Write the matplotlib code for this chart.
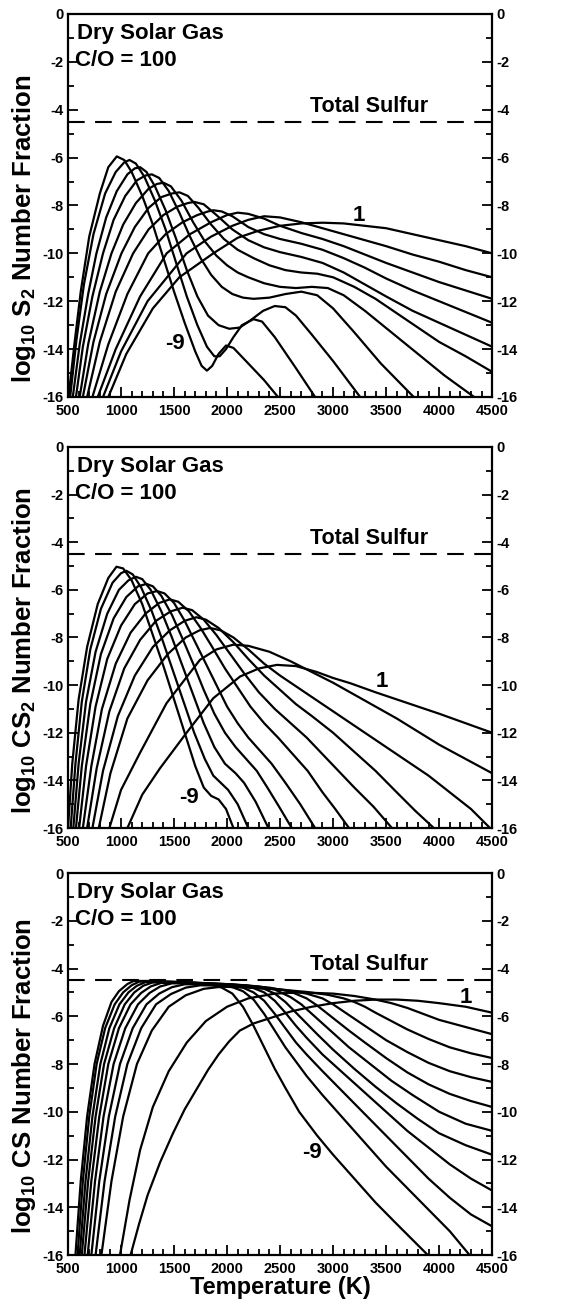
import matplotlib
matplotlib.use("Agg")
import matplotlib.pyplot as plt
from matplotlib.ticker import MultipleLocator

plt.rcParams['font.family'] = ['Liberation Sans', 'DejaVu Sans']
plt.rcParams['font.weight'] = 'bold'
plt.rcParams['axes.unicode_minus'] = False
plt.rcParams['mathtext.fontset'] = 'custom'
plt.rcParams['mathtext.rm'] = 'Liberation Sans:bold'
plt.rcParams['mathtext.it'] = 'Liberation Sans:bold'
plt.rcParams['mathtext.bf'] = 'Liberation Sans:bold'

# log10 P (bar) for each curve, lowest pressure first
log_p = [-9, -8, -7, -6, -5, -4, -3, -2, -1, 0, 1]
total_sulfur = -4.5

# ---- S2 ----
s2_T = [
    [505, 560, 620, 700, 800, 880, 960, 1030, 1100, 1200, 1300, 1400, 1500, 1600, 1700, 1760, 1810, 1860, 1920, 1990, 2060, 2200, 2350, 2480],
    [520, 580, 650, 740, 850, 950, 1030, 1080, 1140, 1220, 1320, 1420, 1520, 1620, 1720, 1810, 1880, 1930, 1990, 2060, 2140, 2250, 2330, 2450, 2650, 2830],
    [545, 610, 690, 768, 860, 960, 1060, 1130, 1180, 1240, 1320, 1420, 1520, 1620, 1720, 1820, 1920, 2020, 2120, 2220, 2340, 2450, 2550, 2650, 2800, 3000, 3255],
    [575, 640, 730, 830, 930, 1040, 1150, 1230, 1290, 1360, 1450, 1550, 1650, 1750, 1850, 1950, 2050, 2150, 2250, 2400, 2550, 2700, 2850, 3000, 3200, 3450, 3760],
    [610, 690, 800, 910, 1020, 1140, 1260, 1340, 1400, 1470, 1570, 1680, 1790, 1900, 2000, 2100, 2200, 2350, 2500, 2650, 2800, 2950, 3100, 3300, 3550, 3800, 4050, 4330],
    [640, 740, 860, 1004, 1130, 1260, 1380, 1480, 1550, 1630, 1730, 1850, 1970, 2100, 2250, 2400, 2550, 2700, 2850, 3000, 3200, 3400, 3600, 3800, 4000, 4250, 4500],
    [680, 800, 950, 1114, 1260, 1400, 1530, 1630, 1690, 1780, 1900, 2050, 2200, 2350, 2500, 2700, 2900, 3100, 3300, 3500, 3750, 4000, 4250, 4500],
    [730, 880, 1060, 1256, 1420, 1580, 1720, 1820, 1870, 1950, 2050, 2200, 2350, 2500, 2700, 2900, 3100, 3300, 3500, 3750, 4000, 4250, 4500],
    [780, 950, 1180, 1430, 1650, 1850, 2000, 2100, 2200, 2350, 2500, 2700, 2900, 3100, 3300, 3500, 3750, 4000, 4250, 4500],
    [830, 1000, 1250, 1618, 1850, 2050, 2200, 2350, 2500, 2700, 2900, 3100, 3300, 3500, 3750, 4000, 4250, 4500],
    [880, 1050, 1300, 1550, 1870, 2100, 2300, 2500, 2700, 2900, 3100, 3300, 3500, 3750, 4000, 4250, 4500],
]
s2_v = [
    [-16, -13.8, -11.6, -9.3, -7.5, -6.4, -5.95, -6.1, -6.6, -7.6, -8.8, -10.2, -11.6, -12.9, -14.1, -14.7, -14.9, -14.7, -14.2, -13.85, -13.95, -14.6, -15.3, -16],
    [-16, -13.6, -11.3, -9.2, -7.5, -6.6, -6.2, -6.1, -6.25, -6.8, -7.8, -9.0, -10.4, -11.8, -13.0, -13.9, -14.3, -14.3, -14.0, -13.5, -13.0, -12.75, -12.85, -13.5, -14.8, -16],
    [-16, -13.8, -11.7, -10.0, -8.5, -7.4, -6.7, -6.45, -6.4, -6.6, -7.2, -8.2, -9.4, -10.7, -11.8, -12.6, -13.0, -13.15, -13.1, -12.8, -12.4, -12.2, -12.25, -12.6, -13.4, -14.5, -16],
    [-16, -13.9, -11.8, -10.0, -8.6, -7.6, -6.95, -6.75, -6.7, -6.85, -7.4, -8.3, -9.3, -10.2, -10.9, -11.4, -11.7, -11.85, -11.9, -11.85, -11.7, -11.6, -11.75, -12.3, -13.3, -14.6, -16],
    [-16, -13.8, -11.6, -10.0, -8.8, -7.9, -7.3, -7.1, -7.05, -7.2, -7.8, -8.7, -9.5, -10.1, -10.5, -10.8, -11.0, -11.25, -11.4, -11.45, -11.4, -11.45, -11.75, -12.4, -13.3, -14.2, -15.1, -16],
    [-16, -13.7, -11.7, -10.0, -8.9, -8.1, -7.65, -7.5, -7.45, -7.6, -8.1, -8.8, -9.4, -9.85, -10.2, -10.5, -10.7, -10.8, -10.85, -11.0, -11.4, -11.9, -12.5, -13.1, -13.7, -14.3, -14.95],
    [-16, -13.7, -11.6, -10.0, -9.0, -8.4, -8.05, -7.9, -7.85, -7.95, -8.4, -9.0, -9.45, -9.75, -9.95, -10.15, -10.4, -10.8, -11.3, -11.8, -12.4, -12.9, -13.4, -13.9],
    [-16, -13.8, -11.7, -10.0, -9.2, -8.7, -8.4, -8.25, -8.2, -8.25, -8.45, -8.9, -9.2, -9.4, -9.6, -9.85, -10.2, -10.6, -11.05, -11.55, -12.0, -12.45, -12.9],
    [-16, -14.0, -11.8, -10.0, -9.2, -8.7, -8.4, -8.3, -8.35, -8.55, -8.85, -9.15, -9.4, -9.7, -10.05, -10.4, -10.8, -11.2, -11.55, -11.9],
    [-16, -14.1, -12.0, -10.0, -9.3, -8.85, -8.6, -8.45, -8.5, -8.7, -8.95, -9.2, -9.45, -9.7, -10.05, -10.35, -10.7, -11.0],
    [-16, -14.2, -12.3, -11.0, -10.0, -9.35, -9.05, -8.85, -8.75, -8.72, -8.75, -8.85, -8.95, -9.2, -9.45, -9.7, -10.0],
]

# ---- CS2 ----
cs2_T = [
    [500, 540, 600, 680, 780, 880, 957, 1020, 1100, 1200, 1300, 1400, 1500, 1600, 1700, 1780, 1850, 1920, 1990, 2060],
    [525, 570, 630, 710, 810, 920, 1000, 1050, 1110, 1190, 1290, 1390, 1490, 1590, 1690, 1790, 1870, 1940, 2010, 2100, 2200],
    [550, 600, 670, 760, 870, 980, 1070, 1140, 1200, 1280, 1380, 1480, 1580, 1680, 1780, 1880, 1980, 2080, 2160, 2270, 2390],
    [575, 630, 710, 810, 930, 1050, 1160, 1240, 1300, 1380, 1480, 1580, 1680, 1780, 1880, 1980, 2080, 2180, 2280, 2380, 2490, 2610],
    [605, 670, 760, 870, 1000, 1130, 1250, 1340, 1410, 1500, 1600, 1700, 1800, 1900, 2000, 2100, 2200, 2300, 2420, 2550, 2690, 2830],
    [640, 720, 820, 950, 1090, 1230, 1360, 1460, 1540, 1640, 1750, 1860, 1980, 2100, 2220, 2350, 2480, 2620, 2760, 2900, 3020, 3150],
    [680, 770, 890, 1030, 1180, 1330, 1470, 1580, 1670, 1780, 1900, 2030, 2160, 2300, 2450, 2600, 2750, 2900, 3050, 3200, 3380, 3555],
    [730, 830, 970, 1130, 1300, 1460, 1600, 1710, 1800, 1920, 2060, 2200, 2350, 2500, 2650, 2800, 3000, 3200, 3400, 3600, 3780, 3950],
    [790, 900, 1060, 1250, 1440, 1610, 1740, 1840, 1940, 2060, 2200, 2350, 2500, 2700, 2900, 3100, 3300, 3500, 3700, 3900, 4100, 4300, 4480],
    [890, 1000, 1177, 1429, 1744, 1900, 2060, 2200, 2400, 2600, 2800, 3000, 3200, 3400, 3600, 3800, 4000, 4250, 4500],
    [1060, 1200, 1366, 1618, 1870, 2122, 2300, 2470, 2650, 2847, 3000, 3162, 3400, 3600, 3800, 4000, 4250, 4500],
]
cs2_v = [
    [-16, -13.3, -10.6, -8.4, -6.6, -5.5, -5.03, -5.1, -5.6, -6.6, -7.9, -9.2, -10.6, -12.0, -13.4, -14.3, -14.65, -14.8, -15.2, -16],
    [-16, -13.3, -10.7, -8.5, -6.8, -5.7, -5.3, -5.2, -5.35, -5.9, -6.9, -8.1, -9.4, -10.7, -12.0, -13.1, -13.8, -14.1, -14.4, -15.0, -16],
    [-16, -13.3, -10.7, -8.6, -7.0, -6.0, -5.6, -5.45, -5.55, -6.0, -6.9, -8.0, -9.2, -10.4, -11.6, -12.6, -13.3, -13.7, -14.1, -14.9, -16],
    [-16, -13.4, -10.8, -8.7, -7.2, -6.3, -5.85, -5.75, -5.85, -6.25, -7.05, -8.05, -9.1, -10.2, -11.2, -12.0, -12.6, -13.1, -13.6, -14.3, -15.1, -16],
    [-16, -13.4, -10.9, -8.9, -7.5, -6.6, -6.15, -6.05, -6.15, -6.55, -7.3, -8.2, -9.1, -10.0, -10.9, -11.6, -12.2, -12.7, -13.3, -14.1, -15.0, -16],
    [-16, -13.4, -11.0, -9.1, -7.8, -7.0, -6.55, -6.4, -6.5, -6.9, -7.6, -8.4, -9.3, -10.1, -10.9, -11.6, -12.2, -12.9, -13.6, -14.5, -15.2, -16],
    [-16, -13.5, -11.1, -9.3, -8.1, -7.3, -6.9, -6.75, -6.85, -7.25, -7.9, -8.7, -9.5, -10.3, -11.0, -11.6, -12.2, -12.9, -13.6, -14.3, -15.1, -16],
    [-16, -13.6, -11.3, -9.6, -8.4, -7.7, -7.3, -7.15, -7.25, -7.6, -8.2, -8.9, -9.6, -10.2, -10.8, -11.3, -12.0, -12.8, -13.6, -14.5, -15.3, -16],
    [-16, -13.7, -11.4, -9.8, -8.7, -8.0, -7.7, -7.6, -7.7, -8.0, -8.5, -9.1, -9.6, -10.2, -10.8, -11.4, -12.0, -12.6, -13.2, -13.8, -14.5, -15.2, -16],
    [-16, -14.4, -12.86, -10.76, -8.94, -8.5, -8.3, -8.35, -8.6, -9.0, -9.45, -9.9, -10.4, -10.9, -11.4, -11.95, -12.5, -13.1, -13.7],
    [-16, -14.6, -13.5, -12.0, -10.55, -9.64, -9.3, -9.15, -9.2, -9.45, -9.7, -9.92, -10.3, -10.6, -10.9, -11.2, -11.6, -12.0],
]

# ---- CS ----
cs_T = [
    [570, 620, 680, 750, 830, 910, 980, 1060, 1120, 1300, 1500, 1700, 1850, 1950, 2050, 2150, 2250, 2350, 2450, 2550, 2680, 2850, 3000, 3200, 3400, 3600, 3893],
    [590, 640, 700, 770, 850, 940, 1020, 1100, 1170, 1400, 1700, 1900, 2050, 2150, 2250, 2350, 2450, 2550, 2650, 2750, 2900, 3100, 3300, 3500, 3700, 3900, 4100, 4287],
    [610, 665, 730, 805, 890, 985, 1070, 1150, 1230, 1450, 1750, 2000, 2150, 2250, 2350, 2450, 2550, 2650, 2750, 2900, 3100, 3300, 3500, 3700, 3900, 4100, 4300, 4500],
    [630, 690, 760, 840, 935, 1035, 1125, 1210, 1300, 1550, 1850, 2100, 2250, 2350, 2450, 2550, 2650, 2750, 2900, 3100, 3300, 3500, 3700, 3900, 4100, 4300, 4500],
    [655, 720, 795, 880, 980, 1090, 1190, 1280, 1380, 1650, 1950, 2200, 2350, 2450, 2550, 2650, 2750, 2850, 3000, 3200, 3400, 3600, 3800, 4000, 4250, 4500],
    [685, 755, 835, 930, 1040, 1160, 1270, 1370, 1480, 1750, 2050, 2300, 2450, 2600, 2700, 2800, 2900, 3000, 3150, 3350, 3550, 3750, 4000, 4250, 4500],
    [720, 795, 885, 990, 1110, 1240, 1360, 1480, 1600, 1850, 2150, 2400, 2600, 2750, 2850, 2950, 3050, 3150, 3300, 3500, 3700, 3900, 4100, 4300, 4500],
    [760, 845, 945, 1060, 1190, 1330, 1470, 1610, 1750, 2000, 2300, 2550, 2750, 2900, 3000, 3100, 3200, 3350, 3500, 3700, 3900, 4100, 4300, 4500],
    [815, 910, 1020, 1150, 1290, 1450, 1610, 1780, 1950, 2200, 2500, 2750, 2950, 3100, 3200, 3300, 3400, 3550, 3700, 3900, 4100, 4300, 4500],
    [990, 1080, 1180, 1300, 1450, 1620, 1800, 2000, 2200, 2450, 2700, 3000, 3200, 3400, 3550, 3700, 3850, 4000, 4250, 4500],
    [1090, 1170, 1250, 1370, 1490, 1600, 1720, 1820, 1920, 2020, 2120, 2250, 2410, 2600, 2800, 3000, 3200, 3400, 3600, 3800, 4000, 4250, 4500],
]
cs_v = [
    [-16, -12.9, -10.2, -8.0, -6.4, -5.4, -4.95, -4.65, -4.52, -4.52, -4.55, -4.6, -4.68, -4.8, -5.05, -5.6, -6.4, -7.3, -8.2, -9.0, -10.0, -11.0, -11.8, -12.8, -13.8, -14.7, -16],
    [-16, -12.9, -10.2, -8.0, -6.5, -5.5, -5.0, -4.7, -4.55, -4.55, -4.6, -4.68, -4.78, -4.95, -5.3, -5.9, -6.6, -7.3, -7.9, -8.5, -9.3, -10.3, -11.3, -12.3, -13.2, -14.1, -15.0, -16],
    [-16, -12.9, -10.2, -8.0, -6.5, -5.5, -5.0, -4.72, -4.57, -4.57, -4.6, -4.68, -4.8, -5.0, -5.35, -5.9, -6.5, -7.1, -7.6, -8.3, -9.2, -10.1, -11.0, -11.9, -12.8, -13.6, -14.3, -14.8],
    [-16, -12.9, -10.2, -8.0, -6.5, -5.5, -5.0, -4.72, -4.58, -4.58, -4.62, -4.7, -4.82, -5.0, -5.35, -5.85, -6.4, -6.9, -7.6, -8.4, -9.2, -10.0, -10.8, -11.5, -12.2, -12.8, -13.3],
    [-16, -12.9, -10.2, -8.0, -6.5, -5.5, -5.02, -4.75, -4.6, -4.6, -4.64, -4.72, -4.85, -5.05, -5.4, -5.85, -6.3, -6.75, -7.4, -8.2, -8.95, -9.65, -10.3, -10.9, -11.4, -11.8],
    [-16, -12.9, -10.2, -8.0, -6.5, -5.5, -5.02, -4.75, -4.62, -4.62, -4.66, -4.75, -4.88, -5.2, -5.5, -5.9, -6.3, -6.7, -7.3, -8.0, -8.7, -9.3, -10.0, -10.5, -10.8],
    [-16, -12.9, -10.2, -8.0, -6.5, -5.5, -5.05, -4.78, -4.66, -4.66, -4.7, -4.8, -4.97, -5.25, -5.55, -5.9, -6.25, -6.6, -7.1, -7.75, -8.35, -8.85, -9.25, -9.55, -9.8],
    [-16, -12.9, -10.2, -8.0, -6.5, -5.5, -5.07, -4.8, -4.7, -4.72, -4.78, -4.9, -5.05, -5.25, -5.5, -5.8, -6.1, -6.55, -7.0, -7.5, -7.95, -8.3, -8.55, -8.75],
    [-16, -12.9, -10.2, -8.0, -6.6, -5.6, -5.12, -4.85, -4.76, -4.8, -4.88, -4.98, -5.1, -5.25, -5.4, -5.6, -5.85, -6.2, -6.55, -6.95, -7.3, -7.55, -7.75],
    [-16, -13.7, -11.6, -9.8, -8.3, -7.1, -6.2, -5.6, -5.25, -5.05, -5.0, -5.05, -5.15, -5.3, -5.45, -5.65, -5.9, -6.15, -6.45, -6.75],
    [-16, -14.7, -13.5, -12.1, -10.9, -9.9, -9.0, -8.25, -7.6, -7.05, -6.6, -6.3, -6.07, -5.8, -5.6, -5.45, -5.35, -5.3, -5.3, -5.35, -5.45, -5.6, -5.85],
]

panels = [
    (s2_T, s2_v, r"log$_{10}$ S$_{2}$ Number Fraction", (3240, -8.4), (1510, -13.75), 0.44),
    (cs2_T, cs2_v, r"log$_{10}$ CS$_{2}$ Number Fraction", (3460, -9.85), (1640, -14.7), 0.465),
    (cs_T, cs_v, r"log$_{10}$ CS Number Fraction", (4250, -5.2), (2800, -11.7), 0.47),
]
boxes = [
    [0.1206, 0.6958, 0.752, 0.2935],
    [0.1206, 0.3655, 0.752, 0.2920],
    [0.1206, 0.0383, 0.752, 0.2927],
]

fig = plt.figure(figsize=(5.64, 13.05), dpi=100)
for (temps, vals, ylab, lab1, lab9, ylab_y), box in zip(panels, boxes):
    ax = fig.add_axes(box)
    for t, v in zip(temps, vals):
        ax.plot(t, v, color="black", lw=1.6, solid_joinstyle="round")
    ax.axhline(total_sulfur, color="black", lw=1.5, dashes=(8, 5))
    ax.set_xlim(500, 4500)
    ax.set_ylim(-16, 0)
    ax.xaxis.set_major_locator(MultipleLocator(500))
    ax.xaxis.set_minor_locator(MultipleLocator(100))
    ax.yaxis.set_major_locator(MultipleLocator(2))
    ax.yaxis.set_minor_locator(MultipleLocator(1))
    ax.tick_params(which="both", direction="in", top=False, right=True,
                   labelright=True, width=1.3, labelsize=10.5, pad=3)
    ax.tick_params(axis="x", which="major", pad=5)
    ax.tick_params(which="major", length=7)
    ax.tick_params(which="minor", length=4)
    for sp in ax.spines.values():
        sp.set_linewidth(1.6)
    ax.set_ylabel(ylab, fontsize=18.5, fontweight="bold")
    ax.yaxis.set_label_coords(-0.071, ylab_y)
    ax.text(585, -0.8, "Dry Solar Gas", fontsize=16, va="center")
    ax.text(565, -1.95, "C/O = 100", fontsize=16, va="center")
    ax.text(3340, -3.85, "Total Sulfur", fontsize=15.5, ha="center", va="center")
    ax.text(lab1[0], lab1[1], "1", fontsize=16, ha="center", va="center")
    ax.text(lab9[0], lab9[1], "-9", fontsize=16, ha="center", va="center")
ax.set_xlabel("Temperature (K)", fontsize=17, fontweight="bold", labelpad=0)

fig.savefig("out.png", dpi=100)
